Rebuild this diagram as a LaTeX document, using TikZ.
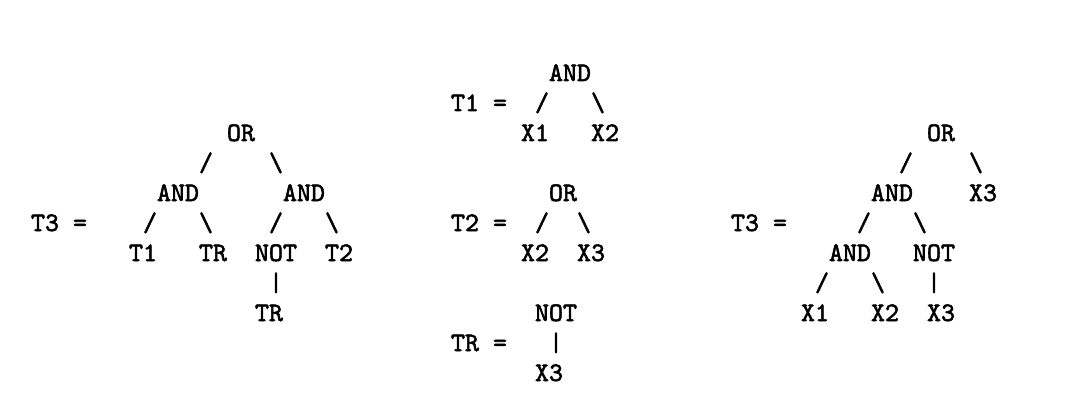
\documentclass[tikz,border=0pt]{standalone}
\usepackage{fontspec}
\newfontfamily\asciitt{lmmono10-regular.otf}[FakeBold=2]
\begin{document}
\begin{tikzpicture}[x=1pt,y=1pt,
  tok/.style={inner sep=0pt,outer sep=0pt,anchor=base west,
    font=\asciitt\fontsize{10}{12}\selectfont,scale=2.6667,transform shape}]
\newcommand\tk[4]{\node[tok] (#1) at ({31+14*#2},{-(81+30*#3)}) {#4};}
\useasboundingbox (0,0) rectangle (1088,-412);
% ---- left tree T3
\tk{lor}{14}{2}{OR}
\tk{ls1}{12}{3}{/}
\tk{lb1}{17}{3}{\textbackslash}
\tk{land1}{9}{4}{AND}
\tk{land2}{18}{4}{AND}
\tk{lT3}{0}{5}{T3 =}
\tk{ls2}{8}{5}{/}
\tk{lb2}{12}{5}{\textbackslash}
\tk{ls3}{17}{5}{/}
\tk{lb3}{21}{5}{\textbackslash}
\tk{lt1}{7}{6}{T1}
\tk{ltr1}{12}{6}{TR}
\tk{lnot}{16}{6}{NOT}
\tk{lt2}{21}{6}{T2}
\tk{lbar}{17}{7}{|}
\tk{ltr2}{16}{8}{TR}
% ---- middle: T1, T2, TR
\tk{mand}{37}{0}{AND}
\tk{mT1}{30}{1}{T1 =}
\tk{ms1}{36}{1}{/}
\tk{mb1}{40}{1}{\textbackslash}
\tk{mx1}{35}{2}{X1}
\tk{mx2}{40}{2}{X2}
\tk{mor}{37}{4}{OR}
\tk{mT2}{30}{5}{T2 =}
\tk{ms2}{36}{5}{/}
\tk{mb2}{39}{5}{\textbackslash}
\tk{mx2b}{35}{6}{X2}
\tk{mx3}{39}{6}{X3}
\tk{mnot}{36}{8}{NOT}
\tk{mTR}{30}{9}{TR =}
\tk{mbar}{37}{9}{|}
\tk{mx3b}{36}{10}{X3}
% ---- right tree T3
\tk{ror}{64}{2}{OR}
\tk{rs1}{62}{3}{/}
\tk{rb1}{67}{3}{\textbackslash}
\tk{rand1}{60}{4}{AND}
\tk{rx3a}{67}{4}{X3}
\tk{rT3}{50}{5}{T3 =}
\tk{rs2}{59}{5}{/}
\tk{rb2}{63}{5}{\textbackslash}
\tk{rand2}{57}{6}{AND}
\tk{rnot}{63}{6}{NOT}
\tk{rs3}{56}{7}{/}
\tk{rb3}{60}{7}{\textbackslash}
\tk{rbar}{64}{7}{|}
\tk{rx1}{55}{8}{X1}
\tk{rx2}{60}{8}{X2}
\tk{rx3b}{64}{8}{X3}
\end{tikzpicture}
\end{document}
